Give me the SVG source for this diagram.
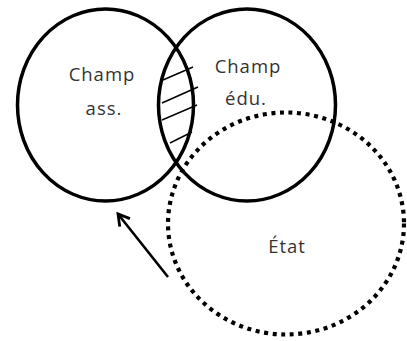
<svg xmlns="http://www.w3.org/2000/svg" width="407" height="341" viewBox="0 0 407 341">
<style>
.ring{fill:none;stroke:#000;stroke-width:3.5}
.dot{fill:none;stroke:#000;stroke-width:4.2;stroke-dasharray:4 4.6}
.hatch{stroke:#000;stroke-width:1.4}
.lbl{font-family:"Open Sans","Noto Sans",sans-serif;font-size:18.5px;fill:#333;text-anchor:middle;letter-spacing:1px}
</style>
<defs>
<marker id="open" markerWidth="16" markerHeight="16" refX="12" refY="8" orient="auto" markerUnits="userSpaceOnUse">
<path d="M1,1.5 L12,8 L1,14.5" fill="none" stroke="#000" stroke-width="2.8"/>
</marker>
</defs>
<rect width="407" height="341" fill="#fff"/>
<g id="etat">
<ellipse class="dot" cx="286" cy="223.5" rx="118" ry="111"/>
<text class="lbl" x="287" y="253">État</text>
</g>
<g id="champ-ass">
<ellipse class="ring" cx="105.5" cy="105" rx="88" ry="96"/>
<text class="lbl" x="102" y="81">Champ</text>
<text class="lbl" x="104" y="115">ass.</text>
</g>
<g id="champ-edu">
<ellipse class="ring" cx="247" cy="105" rx="88.5" ry="96"/>
<text class="lbl" x="248" y="73">Champ</text>
<text class="lbl" x="246" y="105">édu.</text>
</g>
<g id="intersection">
<line class="hatch" x1="163" y1="80" x2="193" y2="67"/>
<line class="hatch" x1="162" y1="103" x2="198" y2="87"/>
<line class="hatch" x1="162" y1="120" x2="197" y2="105"/>
<line class="hatch" x1="170" y1="143" x2="192" y2="132"/>
</g>
<g id="connectors">
<line x1="168" y1="277" x2="118" y2="214" stroke="#000" stroke-width="2.6" marker-end="url(#open)"/>
</g>
</svg>
